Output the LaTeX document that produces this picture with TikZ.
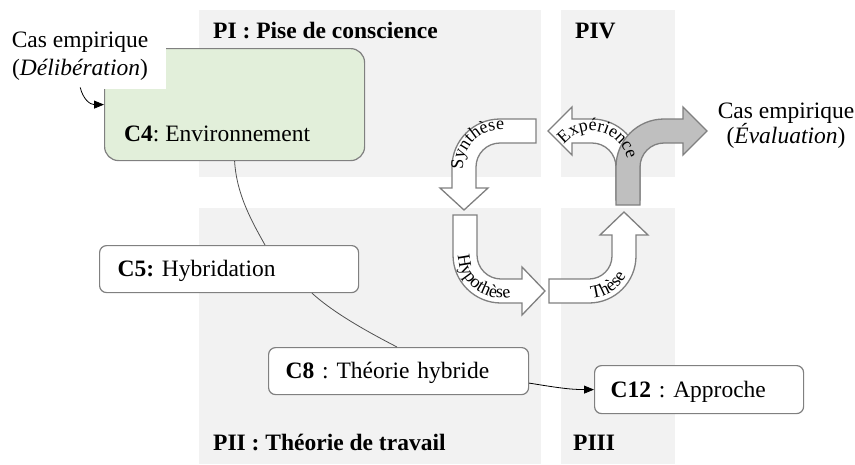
\documentclass[tikz,border=0pt]{standalone}
\usepackage{fontspec}
\setmainfont{Liberation Serif}
\usetikzlibrary{calc,arrows.meta,decorations.text}
\definecolor{panelgray}{HTML}{F2F2F2}
\definecolor{edgegray}{HTML}{808080}
\definecolor{leafgreen}{HTML}{E2EFDA}
\definecolor{stemgray}{HTML}{BFBFBF}
\definecolor{linkgray}{HTML}{505050}
\newcommand\bigtext{\fontsize{23.5}{28}\selectfont}
\newcommand\arcfont{\fontsize{18}{18}\selectfont}
\frenchspacing

\begin{document}
\begin{tikzpicture}[x=1pt, y=-1pt, font=\bigtext,
  panel/.style={fill=panelgray},
  phase/.style={font=\bigtext\bfseries, anchor=base west, inner sep=0pt},
  caption/.style={align=center, inner sep=0pt},
  cbox/.style={draw=edgegray, fill=white, line width=1.2pt, rounded corners=7pt,
    anchor=north west, inner ysep=0pt, align=left, text height=18pt, text depth=3pt},
  bentarrow/.style={draw=edgegray, line width=1.3pt, fill=white, line join=miter},
  stemarrow/.style={bentarrow, fill=stemgray},
  arclabel/.style={decorate, decoration={text along path, text align=center,
    text={|\arcfont|#1}}},
  link/.style={draw=linkgray, line width=0.8pt},
  linkarrow/.style={draw=black, line width=0.8pt, -{Triangle[length=10pt,width=8pt]}},
]
\useasboundingbox (0,0) rectangle (855,464);

% phase panels
\fill[panel] (199,10) rectangle (541,177);
\fill[panel] (561,10) rectangle (675,177);
\fill[panel] (199,208) rectangle (541,464);
\fill[panel] (561,208) rectangle (675,464);

\node[phase] (p1) at (213,38) {PI : Pise de conscience};
\node[phase] (p4) at (575,38) {PIV};
\node[phase] (p2) at (213,450) {PII : Théorie de travail};
\node[phase] (p3) at (573,450) {PIII};

% C4 block with the entry label over its corner
\node[draw=edgegray, line width=1.2pt, fill=leafgreen, rounded corners=14pt,
  minimum width=260pt, minimum height=112pt, inner sep=0pt, anchor=north west] (c4) at (104,48) {};
\node[anchor=base west, inner sep=0pt] (c4t) at (124,141) {\textbf{C4}: Environnement};
\node[fill=white, inner sep=0pt, minimum width=166pt, minimum height=89pt, anchor=north west] (lblLbg) at (0,0) {};
\node[caption] (lblL) at (80,56) {Cas empirique\\(\textit{Délibération})};
\draw[linkarrow] ($(lblLbg.south)+(-3,-2)$) .. controls ($(lblLbg.south)+(0,10)$) and ($(c4.west)+(-14,0)$) .. (c4.west);

% cycle of bent arrows
\draw[bentarrow] (536,119) -- (500,119) arc[start angle=270, end angle=180, radius=48]
  -- (452,188) -- (440,188) -- (464,210) -- (488,188) -- (476,188) -- (476,167)
  arc[start angle=180, end angle=270, radius=24] -- (536,143) -- cycle;
\draw[bentarrow] (453,215) -- (453,255) arc[start angle=180, end angle=90, radius=48]
  -- (522,303) -- (522,315) -- (545,291) -- (522,267) -- (522,279) -- (501,279)
  arc[start angle=90, end angle=180, radius=24] -- (477,215) -- cycle;
\draw[bentarrow] (549,279) -- (589,279) arc[start angle=90, end angle=0, radius=23]
  -- (612,235) -- (600,235) -- (624,212) -- (648,235) -- (636,235) -- (636,256)
  arc[start angle=0, end angle=90, radius=47] -- (549,303) -- cycle;
\draw[bentarrow] (572,119) -- (592,119) arc[start angle=270, end angle=360, radius=48]
  -- (640,200) -- (616,200) -- (616,167) arc[start angle=360, end angle=270, radius=24]
  -- (572,143) -- (572,155) -- (548,131) -- (572,107) -- cycle;
\draw[stemarrow] (616,205) -- (616,167) arc[start angle=180, end angle=270, radius=48]
  -- (683,119) -- (683,107) -- (707,131) -- (683,155) -- (683,143) -- (664,143)
  arc[start angle=270, end angle=180, radius=24] -- (640,205) -- cycle;

\path[arclabel=Synthèse] ($(500,167)+(170:37)$) arc[start angle=170, end angle=282, radius=37];
\path[arclabel=Hypothèse] ($(501,255)+(190:43)$) arc[start angle=190, end angle=66, radius=43];
\path[arclabel=Thèse] ($(589,256)+(112:42)$) arc[start angle=112, end angle=2, radius=42];
\path[arclabel=Expérience] ($(592,167)+(210:36)$) arc[start angle=210, end angle=356, radius=36];

\node[caption] (lblR) at (786,126) {Cas empirique\\[-3pt](\textit{Évaluation})};

% concept boxes
\node[cbox, minimum width=259pt, minimum height=47pt, inner xsep=18pt, text width=223pt] (c5) at (99,245) {\textbf{C5:} Hybridation};
\node[cbox, minimum width=260pt, minimum height=47pt, inner xsep=17pt, text width=226pt] (c8) at (268,347) {\textbf{C8} : Théorie hybride};
\node[cbox, minimum width=209pt, minimum height=48pt, inner xsep=16pt, text width=177pt] (c12) at (594,365) {\textbf{C12} : Approche};

% links
\draw[link] (c4.south) .. controls ($(c4.south)+(2,35)$) and ($(c5.north west)+(155,-20)$) .. ($(c5.north west)+(166,0)$);
\draw[link] ($(c5.south west)+(213,0)$) .. controls ($(c5.south west)+(235,20)$) and ($(c8.north west)+(100,-15)$) .. ($(c8.north west)+(129,0)$);
\draw[linkarrow] ($(c8.east)+(0,12)$) .. controls ($(c8.east)+(25,16)$) and ($(c12.west)+(-25,0)$) .. (c12.west);
\end{tikzpicture}
\end{document}
